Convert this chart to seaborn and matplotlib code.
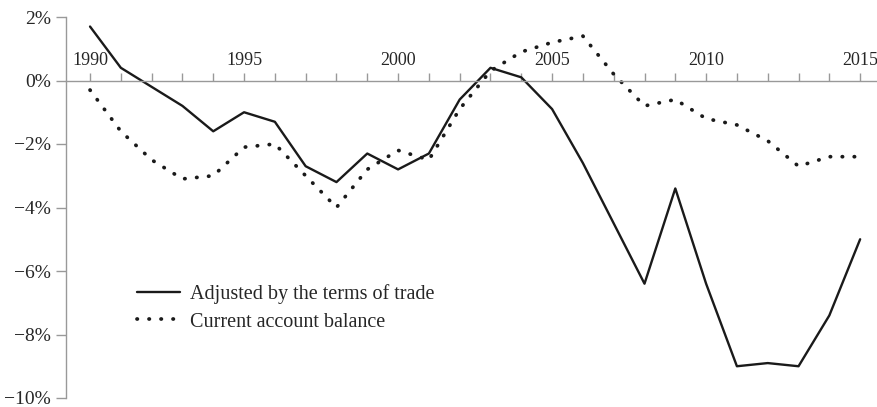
import pandas as pd
import seaborn as sns
import matplotlib.pyplot as plt
from matplotlib.ticker import MultipleLocator, FuncFormatter

years = list(range(1990, 2016))
adjusted = [1.7, 0.4, -0.2, -0.8, -1.6, -1.0, -1.3, -2.7, -3.2, -2.3,
            -2.8, -2.3, -0.6, 0.4, 0.1, -0.9, -2.6, -4.5, -6.4, -3.4,
            -6.4, -9.0, -8.9, -9.0, -7.4, -5.0]
current = [-0.3, -1.6, -2.5, -3.1, -3.0, -2.1, -2.0, -3.0, -4.0, -2.8,
           -2.2, -2.5, -0.9, 0.3, 0.9, 1.2, 1.4, 0.2, -0.8, -0.6,
           -1.2, -1.4, -1.9, -2.7, -2.4, -2.4]
labels = ["Adjusted by the terms of trade", "Current account balance"]

df = pd.DataFrame({"year": years, "adjusted": adjusted, "current": current})

sns.set_style("white")
plt.rcParams["font.family"] = ["Liberation Serif", "DejaVu Serif"]

fig = plt.figure(figsize=(8.78, 4.07), dpi=100)
ax = fig.add_axes([66 / 878, 9 / 407, 812 / 878, 381 / 407])

sns.lineplot(data=df, x="year", y="adjusted", ax=ax, color="#1a1a1a",
             linewidth=1.7, label=labels[0])
sns.lineplot(data=df, x="year", y="current", ax=ax, color="#1a1a1a",
             linewidth=2.7, linestyle=(0, (0.1, 3.1)), dash_capstyle="round",
             label=labels[1])

ax.set_xlim(1989.22, 2015.58)
ax.set_ylim(-10, 2)

gray = "#999999"
ax.spines["right"].set_visible(False)
ax.spines["bottom"].set_visible(False)
ax.spines["top"].set_position(("data", 0))
ax.spines["top"].set_color(gray)
ax.spines["left"].set_color(gray)
ax.spines["top"].set_linewidth(1)
ax.spines["left"].set_linewidth(1)

ax.xaxis.set_ticks_position("top")
ax.xaxis.set_label_position("top")
ax.xaxis.set_major_locator(MultipleLocator(5))
ax.xaxis.set_minor_locator(MultipleLocator(1))
ax.tick_params(axis="x", which="both", direction="out", length=6,
               color=gray, width=1, pad=2, labelsize=13)
ax.yaxis.set_major_locator(MultipleLocator(2))
ax.yaxis.set_major_formatter(FuncFormatter(
    lambda v, p: f"{v:.0f}%".replace("-", "\u2212")))
ax.tick_params(axis="y", direction="out", length=7, color=gray, width=1,
               pad=4, labelsize=14, left=True)
ax.set_xlabel("")
ax.set_ylabel("")

ax.legend(loc="upper left", bbox_to_anchor=(0.087, 0.298), frameon=False,
          fontsize=14.5, handlelength=2.15, handletextpad=0.5,
          labelspacing=0.4, borderaxespad=0, borderpad=0)

fig.savefig("out.png", dpi=100)
